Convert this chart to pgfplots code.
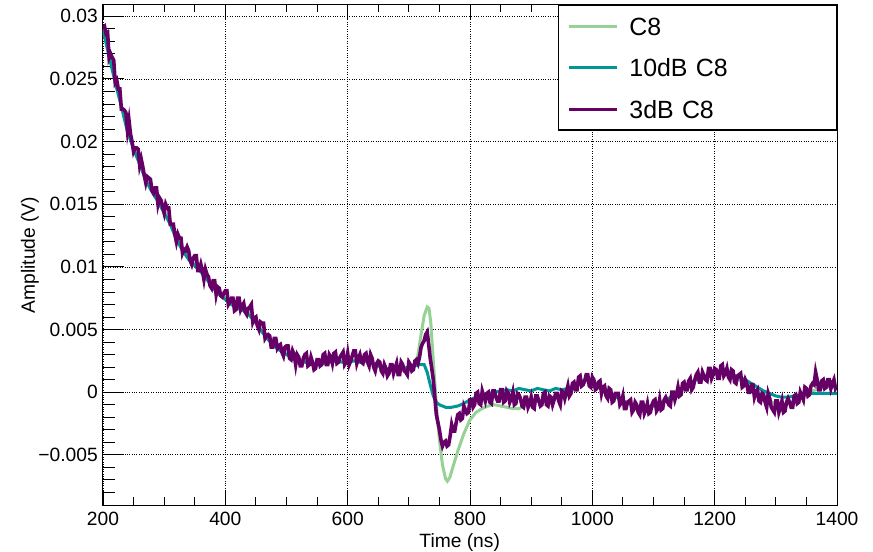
\documentclass[border=0pt]{standalone}
\usepackage{fontspec}
\setmainfont{Liberation Sans}
\usepackage{pgfplots}
\pgfplotsset{compat=1.18}
\definecolor{cgreen}{RGB}{150,210,150}
\definecolor{cteal}{RGB}{0,150,150}
\definecolor{cpurple}{RGB}{102,0,102}
\begin{document}
\begin{tikzpicture}
\pgfplotsset{
  common/.style={scale only axis, width=734bp, height=500bp,
    xmin=200, xmax=1400, ymin=-0.009, ymax=0.0309,
    at={(0,0)}, anchor=south west, tick align=inside,
    axis line style={black, line width=1bp},
    tick style={black, line width=0.9bp},
    grid style={black, dotted, line width=0.8bp},
    tick label style={font=\fontsize{19.3}{23}\selectfont},
    label style={font=\fontsize{19.3}{23}\selectfont}}
}
% x ticks and x grid
\begin{axis}[common, ytick=\empty,
  xtick={200,400,600,800,1000,1200,1400},
  xticklabels={200,400,600,800,1000,1200,1400},
  minor x tick num=3, xtick pos=both, xmajorgrids,
  major tick length=15bp, minor tick length=7.5bp,
  xticklabel style={inner sep=0pt, yshift=-7bp, anchor=north},
  xlabel={Time (ns)},
  xlabel style={at={(rel axis cs:0.486,-0.056)}, anchor=north, inner sep=0pt}]
\end{axis}
\begin{axis}[common, xtick=\empty,
  ytick={-0.005,0,0.005,0.01,0.015,0.02,0.025,0.03},
  yticklabels={−0.005,0,0.005,0.01,0.015,0.02,0.025,0.03},
  minor ytick={-0.008,-0.007,-0.006,-0.004,-0.003,-0.002,-0.001,0.001,0.002,0.003,0.004,0.006,0.007,0.008,0.009,0.011,0.012,0.013,0.014,0.016,0.017,0.018,0.019,0.021,0.022,0.023,0.024,0.026,0.027,0.028,0.029},
  ytick pos=left, ymajorgrids,
  major tick length=21bp, minor tick length=12bp,
  yticklabel style={inner sep=0pt, xshift=-5bp, anchor=east},
  ylabel={Amplitude (V)},
  ylabel style={at={(rel axis cs:-0.0995,0.5)}, anchor=center, inner sep=0pt},
  legend style={at={(1,1)}, anchor=north east, draw=black, line width=1.2bp,
    inner xsep=9bp, inner ysep=0pt, font=\fontsize{25}{30}\selectfont,
    nodes={inner sep=0pt, text height=29.75bp, text depth=11.75bp, text width=198bp, align=left},
    /tikz/every odd column/.append style={column sep=11bp}},
  legend cell align=left,
  legend image code/.code={\draw[#1, line width=3bp] (0bp,0bp) -- (48bp,0bp);}]
\addplot[cgreen, line width=3bp] coordinates {
(200,0.0290) (210,0.0270) (220,0.0249) (230,0.0229) (240,0.0210) (250,0.0195) (260,0.0183) (270,0.0171) (280,0.0161) (290,0.0153)
(300,0.0145) (310,0.0135) (320,0.0124) (330,0.0114) (340,0.0107) (350,0.0102) (360,0.0098) (370,0.0091) (380,0.0084) (390,0.0079)
(400,0.0075) (410,0.0071) (420,0.0068) (430,0.0066) (440,0.0062) (450,0.0056) (460,0.0049) (470,0.0043) (480,0.0038) (490,0.0034)
(500,0.0031) (510,0.0028) (520,0.0025) (530,0.0024) (540,0.0023) (550,0.0022) (560,0.0023) (570,0.0024) (580,0.0025) (590,0.0025)
(600,0.0025) (610,0.0025) (620,0.0025) (630,0.0025) (640,0.0023) (650,0.0021) (660,0.0019) (670,0.0018) (680,0.0018) (690,0.0019)
(700,0.0020) (705,0.0021) (710,0.0022) (715,0.0030) (720,0.0046) (725,0.0061) (730,0.0068) (733,0.0067) (736,0.0055) (740,0.0025)
(745,-0.0010) (750,-0.0038) (755,-0.0058) (760,-0.0069) (763,-0.0071) (767,-0.0068) (770,-0.0063) (775,-0.0055) (780,-0.0047) (790,-0.0033)
(800,-0.0022) (810,-0.0016) (820,-0.0013) (830,-0.0011) (840,-0.0010) (850,-0.0011) (860,-0.0012) (870,-0.0013) (880,-0.0013) (890,-0.0011)
(900,-0.0009) (910,-0.0007) (920,-0.0006) (930,-0.0005) (940,-0.0004) (950,-0.0002) (960,0.0001) (970,0.0004) (980,0.0008) (990,0.0010)
(1000,0.0008) (1010,0.0005) (1020,0.0002) (1030,-0.0001) (1040,-0.0004) (1050,-0.0007) (1060,-0.0009) (1070,-0.0011) (1080,-0.0012) (1090,-0.0012)
(1100,-0.0011) (1110,-0.0009) (1120,-0.0007) (1130,-0.0003) (1140,0.0001) (1150,0.0004) (1160,0.0007) (1170,0.0010) (1180,0.0012) (1190,0.0014)
(1200,0.0015) (1210,0.0016) (1220,0.0015) (1230,0.0013) (1240,0.0010) (1250,0.0007) (1260,0.0003) (1270,-0.0001) (1280,-0.0004) (1290,-0.0007)
(1300,-0.0009) (1310,-0.0010) (1320,-0.0009) (1330,-0.0007) (1340,-0.0004) (1350,-0.0002) (1360,0.0001) (1370,0.0003) (1380,0.0004) (1390,0.0004) (1400,0.0005)
};
\addlegendentry{C8}
\addplot[cteal, line width=3bp] coordinates {
(200,0.0289) (210,0.0268) (220,0.0247) (230,0.0228) (240,0.0208) (250,0.0194) (260,0.0182) (270,0.0169) (280,0.0160) (290,0.0152)
(300,0.0143) (310,0.0134) (320,0.0122) (330,0.0113) (340,0.0106) (350,0.0101) (360,0.0096) (370,0.0090) (380,0.0083) (390,0.0078)
(400,0.0074) (410,0.0070) (420,0.0067) (430,0.0065) (440,0.0061) (450,0.0055) (460,0.0048) (470,0.0042) (480,0.0037) (490,0.0033)
(500,0.0030) (510,0.0027) (520,0.0025) (530,0.0024) (540,0.0023) (550,0.0022) (560,0.0023) (570,0.0024) (580,0.0025) (590,0.0024)
(600,0.0024) (610,0.0025) (620,0.0024) (630,0.0025) (640,0.0023) (650,0.0021) (660,0.0019) (670,0.0018) (680,0.0018) (690,0.0019)
(700,0.0020) (705,0.0021) (710,0.0021) (715,0.0022) (720,0.0022) (725,0.0022) (730,0.0016) (735,0.0006) (740,-0.0003) (745,-0.0008)
(750,-0.0010) (755,-0.0011) (760,-0.0012) (770,-0.0012) (780,-0.0011) (790,-0.0009) (800,-0.0006) (810,-0.0004) (820,-0.0002) (830,-0.0001)
(840,0.0000) (850,0.0001) (860,0.0002) (870,0.0001) (880,0.0003) (890,0.0002) (900,0.0001) (910,0.0003) (920,0.0002) (930,0.0001)
(940,0.0003) (950,0.0002) (960,0.0003) (970,0.0005) (980,0.0008) (990,0.0010) (1000,0.0008) (1010,0.0005) (1020,0.0002) (1030,-0.0001)
(1040,-0.0004) (1050,-0.0007) (1060,-0.0009) (1070,-0.0011) (1080,-0.0012) (1090,-0.0012) (1100,-0.0011) (1110,-0.0009) (1120,-0.0007) (1130,-0.0003)
(1140,0.0001) (1150,0.0004) (1160,0.0007) (1170,0.0010) (1180,0.0012) (1190,0.0014) (1200,0.0015) (1210,0.0016) (1220,0.0015) (1230,0.0014)
(1240,0.0012) (1250,0.0010) (1260,0.0007) (1270,0.0004) (1280,0.0001) (1290,-0.0001) (1300,-0.0003) (1310,-0.0004) (1320,-0.0004) (1330,-0.0003)
(1340,-0.0002) (1350,-0.0001) (1360,-0.0001) (1370,-0.0001) (1380,-0.0001) (1390,-0.0001) (1400,-0.0001)
};
\addlegendentry{10dB C8}
\addplot[cpurple, line width=3.6bp] coordinates {
(200,0.0291) (202.5,0.0292) (205,0.0286) (207.5,0.0287) (210,0.0267) (212.5,0.0270) (215,0.0267) (217.5,0.0265) (220,0.0247) (222.5,0.0249)
(225,0.0242) (227.5,0.0242) (230,0.0226) (232.5,0.0226) (235,0.0225) (237.5,0.0223) (240,0.0209) (242.5,0.0217) (245,0.0206) (247.5,0.0200)
(250,0.0192) (252.5,0.0195) (255,0.0195) (257.5,0.0194) (260,0.0181) (262.5,0.0186) (265,0.0180) (267.5,0.0173) (270,0.0167) (272.5,0.0172)
(275,0.0171) (277.5,0.0170) (280,0.0161) (282.5,0.0159) (285,0.0163) (287.5,0.0163) (290,0.0150) (292.5,0.0155) (295,0.0153) (297.5,0.0148)
(300,0.0143) (302.5,0.0150) (305,0.0147) (307.5,0.0147) (310,0.0134) (312.5,0.0134) (315,0.0134) (317.5,0.0126) (320,0.0120) (322.5,0.0126)
(325,0.0123) (327.5,0.0123) (330,0.0111) (332.5,0.0114) (335,0.0113) (337.5,0.0116) (340,0.0113) (342.5,0.0105) (345,0.0102) (347.5,0.0107)
(350,0.0109) (352.5,0.0109) (355,0.0097) (357.5,0.0097) (360,0.0102) (362.5,0.0097) (365,0.0090) (367.5,0.0098) (370,0.0094) (372.5,0.0092)
(375,0.0085) (377.5,0.0083) (380,0.0089) (382.5,0.0089) (385,0.0078) (387.5,0.0084) (390,0.0083) (392.5,0.0077) (395,0.0076) (397.5,0.0079)
(400,0.0081) (402.5,0.0081) (405,0.0070) (407.5,0.0072) (410,0.0075) (412.5,0.0075) (415,0.0065) (417.5,0.0066) (420,0.0075) (422.5,0.0075)
(425,0.0066) (427.5,0.0069) (430,0.0071) (432.5,0.0064) (435,0.0062) (437.5,0.0067) (440,0.0068) (442.5,0.0070) (445,0.0056) (447.5,0.0059)
(450,0.0060) (452.5,0.0053) (455,0.0050) (457.5,0.0056) (460,0.0055) (462.5,0.0055) (465,0.0043) (467.5,0.0045) (470,0.0046) (472.5,0.0045)
(475,0.0036) (477.5,0.0036) (480,0.0043) (482.5,0.0043) (485,0.0035) (487.5,0.0037) (490,0.0038) (492.5,0.0032) (495,0.0029) (497.5,0.0036)
(500,0.0037) (502.5,0.0037) (505,0.0027) (507.5,0.0026) (510,0.0033) (512.5,0.0030) (515,0.0022) (517.5,0.0030) (520,0.0028) (522.5,0.0021)
(525,0.0021) (527.5,0.0027) (530,0.0030) (532.5,0.0031) (535,0.0021) (537.5,0.0022) (540,0.0028) (542.5,0.0024) (545,0.0018) (547.5,0.0019)
(550,0.0026) (552.5,0.0026) (555,0.0021) (557.5,0.0022) (560,0.0030) (562.5,0.0031) (565,0.0022) (567.5,0.0022) (570,0.0030) (572.5,0.0028)
(575,0.0023) (577.5,0.0031) (580,0.0032) (582.5,0.0023) (585,0.0024) (587.5,0.0028) (590,0.0030) (592.5,0.0032) (595,0.0022) (597.5,0.0024)
(600,0.0031) (602.5,0.0022) (605,0.0025) (607.5,0.0029) (610,0.0033) (612.5,0.0033) (615,0.0023) (617.5,0.0027) (620,0.0030) (622.5,0.0024)
(625,0.0023) (627.5,0.0030) (630,0.0031) (632.5,0.0024) (635,0.0021) (637.5,0.0030) (640,0.0027) (642.5,0.0020) (645,0.0017) (647.5,0.0023)
(650,0.0025) (652.5,0.0024) (655,0.0017) (657.5,0.0015) (660,0.0022) (662.5,0.0019) (665,0.0013) (667.5,0.0015) (670,0.0022) (672.5,0.0022)
(675,0.0015) (677.5,0.0019) (680,0.0023) (682.5,0.0014) (685,0.0014) (687.5,0.0024) (690,0.0022) (692.5,0.0017) (695,0.0016) (697.5,0.0014)
(700,0.0024) (702.5,0.0022) (705,0.0017) (707.5,0.0018) (710,0.0025) (712.5,0.0026) (715,0.0023) (717.5,0.0028) (720,0.0036) (722.5,0.0039)
(725,0.0041) (727.5,0.0046) (730,0.0048) (732.5,0.0038) (735,0.0027) (737.5,0.0019) (740,0.0010) (742.5,-0.0004) (745,-0.0018) (747.5,-0.0024)
(750,-0.0030) (752.5,-0.0038) (755,-0.0043) (757.5,-0.0040) (760,-0.0039) (762.5,-0.0043) (765,-0.0042) (767.5,-0.0035) (770,-0.0026) (772.5,-0.0031)
(775,-0.0031) (777.5,-0.0024) (780,-0.0018) (782.5,-0.0017) (785,-0.0022) (787.5,-0.0021) (790,-0.0011) (792.5,-0.0014) (795,-0.0017) (797.5,-0.0016)
(800,-0.0006) (802.5,-0.0006) (805,-0.0012) (807.5,-0.0010) (810,-0.0001) (812.5,0.0000) (815,-0.0009) (817.5,-0.0010) (820,0.0001) (822.5,-0.0003)
(825,-0.0007) (827.5,-0.0001) (830,0.0000) (832.5,-0.0008) (835,-0.0009) (837.5,0.0001) (840,0.0001) (842.5,-0.0004) (845,-0.0007) (847.5,-0.0007)
(850,0.0002) (852.5,0.0002) (855,-0.0008) (857.5,-0.0007) (860,0.0001) (862.5,-0.0001) (865,-0.0008) (867.5,-0.0005) (870,0.0000) (872.5,-0.0010)
(875,-0.0009) (877.5,-0.0001) (880,-0.0002) (882.5,-0.0005) (885,-0.0011) (887.5,-0.0012) (890,-0.0004) (892.5,-0.0004) (895,-0.0012) (897.5,-0.0009)
(900,-0.0004) (902.5,-0.0012) (905,-0.0013) (907.5,-0.0003) (910,-0.0003) (912.5,-0.0007) (915,-0.0011) (917.5,-0.0010) (920,-0.0001) (922.5,0.0000)
(925,-0.0010) (927.5,-0.0011) (930,-0.0003) (932.5,-0.0004) (935,-0.0010) (937.5,-0.0006) (940,-0.0001) (942.5,-0.0001) (945,-0.0007) (947.5,-0.0010)
(950,0.0001) (952.5,0.0000) (955,-0.0005) (957.5,0.0000) (960,0.0005) (962.5,-0.0003) (965,-0.0001) (967.5,0.0007) (970,0.0008) (972.5,0.0002)
(975,0.0002) (977.5,0.0012) (980,0.0013) (982.5,0.0005) (985,0.0006) (987.5,0.0009) (990,0.0014) (992.5,0.0014) (995,0.0005) (997.5,0.0004)
(1000,0.0012) (1002.5,0.0010) (1005,0.0002) (1007.5,0.0003) (1010,0.0008) (1012.5,0.0009) (1015,-0.0001) (1017.5,0.0004) (1020,0.0005) (1022.5,-0.0003)
(1025,-0.0005) (1027.5,0.0003) (1030,0.0002) (1032.5,-0.0008) (1035,-0.0007) (1037.5,-0.0001) (1040,-0.0001) (1042.5,-0.0001) (1045,-0.0010) (1047.5,-0.0008)
(1050,-0.0003) (1052.5,-0.0013) (1055,-0.0013) (1057.5,-0.0008) (1060,-0.0007) (1062.5,-0.0006) (1065,-0.0016) (1067.5,-0.0014) (1070,-0.0008) (1072.5,-0.0010)
(1075,-0.0016) (1077.5,-0.0018) (1080,-0.0008) (1082.5,-0.0008) (1085,-0.0017) (1087.5,-0.0014) (1090,-0.0009) (1092.5,-0.0017) (1095,-0.0016) (1097.5,-0.0010)
(1100,-0.0007) (1102.5,-0.0006) (1105,-0.0015) (1107.5,-0.0013) (1110,-0.0006) (1112.5,-0.0014) (1115,-0.0013) (1117.5,-0.0006) (1120,-0.0004) (1122.5,-0.0007)
(1125,-0.0010) (1127.5,-0.0011) (1130,0.0000) (1132.5,0.0000) (1135,-0.0006) (1137.5,-0.0002) (1140,0.0004) (1142.5,-0.0003) (1145,-0.0002) (1147.5,0.0007)
(1150,0.0008) (1152.5,0.0002) (1155,0.0002) (1157.5,0.0009) (1160,0.0011) (1162.5,0.0002) (1165,0.0004) (1167.5,0.0010) (1170,0.0014) (1172.5,0.0016)
(1175,0.0008) (1177.5,0.0008) (1180,0.0016) (1182.5,0.0013) (1185,0.0010) (1187.5,0.0009) (1190,0.0019) (1192.5,0.0019) (1195,0.0011) (1197.5,0.0014)
(1200,0.0019) (1202.5,0.0018) (1205,0.0011) (1207.5,0.0011) (1210,0.0021) (1212.5,0.0022) (1215,0.0013) (1217.5,0.0015) (1220,0.0019) (1222.5,0.0012)
(1225,0.0010) (1227.5,0.0018) (1230,0.0017) (1232.5,0.0008) (1235,0.0007) (1237.5,0.0013) (1240,0.0014) (1242.5,0.0015) (1245,0.0004) (1247.5,0.0005)
(1250,0.0010) (1252.5,0.0007) (1255,0.0000) (1257.5,0.0000) (1260,0.0006) (1262.5,0.0006) (1265,-0.0004) (1267.5,0.0000) (1270,0.0002) (1272.5,-0.0007)
(1275,-0.0008) (1277.5,-0.0001) (1280,-0.0002) (1282.5,-0.0008) (1285,-0.0012) (1287.5,-0.0001) (1290,-0.0005) (1292.5,-0.0012) (1295,-0.0014) (1297.5,-0.0016)
(1300,-0.0007) (1302.5,-0.0007) (1305,-0.0016) (1307.5,-0.0012) (1310,-0.0007) (1312.5,-0.0016) (1315,-0.0015) (1317.5,-0.0008) (1320,-0.0005) (1322.5,-0.0008)
(1325,-0.0012) (1327.5,-0.0012) (1330,-0.0003) (1332.5,-0.0002) (1335,-0.0009) (1337.5,-0.0008) (1340,0.0000) (1342.5,-0.0003) (1345,-0.0006) (1347.5,0.0004)
(1350,0.0003) (1352.5,-0.0003) (1355,-0.0002) (1357.5,0.0005) (1360,0.0007) (1362.5,0.0006) (1365,0.0016) (1367.5,0.0010) (1370,0.0002) (1372.5,0.0002)
(1375,0.0009) (1377.5,0.0010) (1380,0.0003) (1382.5,0.0004) (1385,0.0010) (1387.5,0.0010) (1390,0.0003) (1392.5,0.0007) (1395,0.0010) (1397.5,0.0003) (1400,0.0005)
};
\addlegendentry{3dB C8}
\end{axis}
\pgfresetboundingbox
\path[use as bounding box] (-103bp,-47bp) rectangle (770bp,505bp);
\end{tikzpicture}
\end{document}
